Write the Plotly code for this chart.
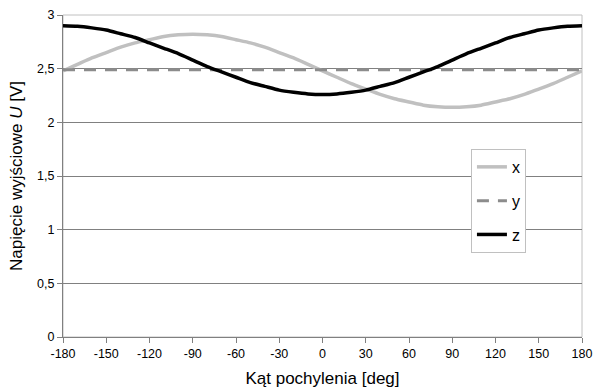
import plotly.graph_objects as go

angles = [-180, -170, -160, -150, -140, -130, -120, -110, -100, -90, -80, -70, -60,
          -50, -40, -30, -20, -10, 0, 10, 20, 30, 40, 50, 60, 70, 80, 90,
          100, 110, 120, 130, 140, 150, 160, 170, 180]
x_vals = [2.48, 2.54, 2.60, 2.65, 2.70, 2.74, 2.77, 2.80, 2.815, 2.82, 2.815, 2.80, 2.77,
          2.74, 2.70, 2.65, 2.60, 2.54, 2.48, 2.42, 2.36, 2.31, 2.26, 2.22, 2.19, 2.16,
          2.145, 2.14, 2.145, 2.16, 2.19, 2.22, 2.26, 2.31, 2.36, 2.42, 2.48]
y_vals = [2.49] * 37
z_vals = [2.90, 2.895, 2.88, 2.86, 2.825, 2.79, 2.74, 2.69, 2.64, 2.58, 2.52, 2.47, 2.42,
          2.37, 2.335, 2.30, 2.28, 2.265, 2.26, 2.265, 2.28, 2.30, 2.335, 2.37, 2.42, 2.47,
          2.52, 2.58, 2.64, 2.69, 2.74, 2.79, 2.825, 2.86, 2.88, 2.895, 2.90]

x_ticks = [-180, -150, -120, -90, -60, -30, 0, 30, 60, 90, 120, 150, 180]
x_ticktext = ["-180", "-150", "-120", "-90", "-60", "-30", "0", "30", "60", "90", "120", "150", "180"]
y_ticks = [0, 0.5, 1, 1.5, 2, 2.5, 3]
y_ticktext = ["0", "0,5", "1", "1,5", "2", "2,5", "3"]

fig = go.Figure()
fig.add_trace(go.Scatter(x=angles, y=x_vals, name="x", mode="lines",
                         line=dict(color="#c0c0c0", width=3.5, shape="spline", smoothing=0.6),
                         legendgroup="a"))
fig.add_trace(go.Scatter(x=angles, y=y_vals, name="y", mode="lines",
                         line=dict(color="#8c8c8c", width=3, dash="12px,9px"), legendgroup="b"))
fig.add_trace(go.Scatter(x=angles, y=z_vals, name="z", mode="lines",
                         line=dict(color="#000000", width=3.5, shape="spline", smoothing=0.6),
                         legendgroup="c"))

fig.update_layout(
    width=595, height=388,
    margin=dict(l=63, r=13, t=15, b=51, autoexpand=False),
    paper_bgcolor="white", plot_bgcolor="white",
    font=dict(family="Liberation Sans, Arial, sans-serif", color="#000000"),
    showlegend=True,
    legend=dict(x=0.786, y=0.584, xanchor="left", yanchor="top",
                bordercolor="#c0c0c0", borderwidth=1, bgcolor="white",
                font=dict(size=16), tracegroupgap=10, itemwidth=30),
    shapes=[dict(type="rect", xref="paper", yref="paper", x0=0, x1=1, y0=0, y1=1,
                 line=dict(color="#c0c0c0", width=1), layer="below")],
)
fig.update_xaxes(range=[-180, 180], tickvals=x_ticks, ticktext=x_ticktext,
                 showgrid=False, zeroline=False, ticklabeloverflow="allow",
                 showline=True, linecolor="#808080", linewidth=1, automargin=False,
                 ticks="outside", ticklen=5, tickcolor="#808080",
                 tickfont=dict(size=12.5),
                 title=dict(text="Kąt pochylenia [deg]", font=dict(size=17), standoff=13))
fig.update_yaxes(range=[0, 3], tickvals=y_ticks, ticktext=y_ticktext,
                 showgrid=True, gridcolor="#808080", gridwidth=1, zeroline=False,
                 showline=True, linecolor="#808080", linewidth=1, automargin=False,
                 ticks="outside", ticklen=5, tickcolor="#808080",
                 tickfont=dict(size=12.5),
                 title=dict(text="Napięcie wyjściowe <i>U</i> [V]", font=dict(size=17), standoff=10))

fig.write_html("out.html",
               config={"displayModeBar": False, "staticPlot": True},
               post_script="document.body.style.margin='0';document.body.style.overflow='hidden';")
